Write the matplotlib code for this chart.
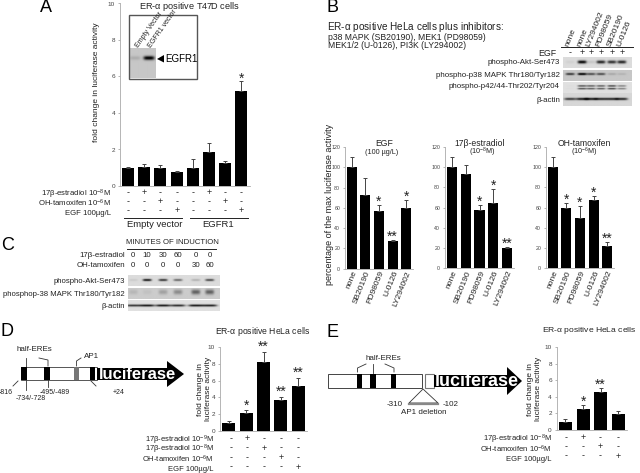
import numpy as np
import matplotlib
matplotlib.use('Agg')
import matplotlib.pyplot as plt
from matplotlib.patches import Polygon, Rectangle

plt.rcParams['font.family'] = ['Liberation Sans', 'DejaVu Sans']
plt.rcParams['mathtext.default'] = 'regular'

W, H = 640, 473

# panel A
a_vals = [1.0, 1.05, 0.98, 0.75, 1.0, 1.85, 1.25, 5.2]
a_errs = [0.05, 0.15, 0.15, 0.05, 0.5, 0.5, 0.1, 0.55]
a_stars = ['', '', '', '', '', '', '', '*']
a_e2 = ['-', '+', '-', '-', '-', '+', '-', '-']
a_tam = ['-', '-', '+', '-', '-', '-', '+', '-']
a_egf = ['-', '-', '-', '+', '-', '-', '-', '+']

# panel B
inhibitors = ['none', 'SB20190', 'PD98059', 'U-0126', 'LY294002']
egf_vals = [100, 73, 57, 27.5, 59.5]
egf_errs = [10, 16, 6, 0.5, 8.5]
egf_stars = ['', '', '*', '**', '*']
e2_vals = [100, 93, 58, 64.5, 20.5]
e2_errs = [10, 9, 5, 14, 1]
e2_stars = ['', '', '*', '*', '**']
tam_vals = [100, 60, 50, 67.5, 22.5]
tam_errs = [10, 5, 12, 4.5, 3.5]
tam_stars = ['', '*', '*', '*', '**']
b_lanes = ['none', 'none', 'LY294002', 'PD98059', 'SB20190', 'U-0126']
b_egf = ['-', '+', '+', '+', '+', '+']
b_akt = [0.05, 1.0, 0.1, 0.85, 0.8, 0.85]
b_p38 = [0.7, 1.0, 0.6, 0.6, 0.15, 0.1]
b_p42 = [0.02, 0.75, 0.7, 0.7, 0.8, 0.5]
b_actin = [0.75, 0.9, 0.9, 0.85, 0.85, 0.85]

# panel C
c_e2 = ['0', '10', '30', '60', '0', '0']
c_tam = ['0', '0', '0', '0', '30', '60']
c_akt = [0.08, 0.95, 0.8, 0.55, 0.2, 0.7]
c_p38 = [0.1, 0.05, 0.2, 0.3, 0.5, 0.5]
c_actin = [0.8, 0.95, 0.95, 0.85, 0.95, 0.9]

# panel D
d_vals = [1.0, 2.2, 8.2, 3.75, 5.3]
d_errs = [0.15, 0.25, 1.2, 0.35, 1.05]
d_stars = ['', '*', '**', '**', '**']
d_e2low = ['-', '+', '-', '-', '-']
d_e2high = ['-', '-', '+', '-', '-']
d_tam = ['-', '-', '-', '+', '-']
d_egf = ['-', '-', '-', '-', '+']

# panel E
e_vals = [1.0, 2.55, 4.6, 1.9]
e_errs = [0.3, 0.45, 0.5, 0.35]
e_stars = ['', '*', '**', '']
e_e2 = ['-', '+', '-', '-']
e_tam = ['-', '-', '+', '-']
e_egf = ['-', '-', '-', '+']

fig = plt.figure(figsize=(W / 100, H / 100), dpi=100)
bg = fig.add_axes([0, 0, 1, 1], zorder=0)
bg.set_xlim(0, W)
bg.set_ylim(H, 0)
bg.axis('off')


def txt(x, y, s, size=6.3, ha='left', color='#222222', **kw):
    bg.text(x, y, s, fontsize=size, ha=ha, va='center', color=color, **kw)


def bars(left, right, top, bottom, vals, errs, stars, ymax, step, labels=None, lab_size=4.6, star_gap=None):
    ax = fig.add_axes([left / W, 1 - bottom / H, (right - left) / W, (bottom - top) / H], zorder=2)
    ax.patch.set_alpha(0)
    x = np.arange(len(vals))
    ax.bar(x, vals, width=0.74, color='black')
    ax.errorbar(x, vals, yerr=[np.zeros(len(errs)), errs], fmt='none', ecolor='#444444',
                elinewidth=0.7, capsize=1.4, capthick=0.7)
    for i in x:
        if stars[i]:
            gap = star_gap if star_gap else ymax * 0.015
            ax.text(i, vals[i] + errs[i] + gap, stars[i], ha='center', va='center', fontsize=10,
                    color='#222222', clip_on=False)
    ax.set_xlim(-0.5, len(vals) - 0.5)
    ax.set_ylim(0, ymax)
    ax.set_yticks(np.arange(0, ymax + 1, step))
    ax.tick_params(axis='y', labelsize=lab_size, length=1.5, width=0.5, color='#999999',
                   labelcolor='#444444', pad=2)
    ax.spines['top'].set_visible(False)
    ax.spines['right'].set_visible(False)
    ax.spines['left'].set_color('#aaaaaa')
    ax.spines['bottom'].set_color('#aaaaaa')
    ax.spines['left'].set_linewidth(0.6)
    ax.spines['bottom'].set_linewidth(0.6)
    if labels:
        ax.set_xticks(x)
        ax.set_xticklabels(labels, rotation=68, ha='right', rotation_mode='anchor', fontsize=6.0, color='#222222')
        ax.tick_params(axis='x', length=0, pad=1)
    else:
        ax.set_xticks([])
    return ax


def signs(xs, y, row, size=6.5):
    for x, s in zip(xs, row):
        txt(x, y, s, size=size, ha='center')


def gel(x0, x1, y0, y1, lanes, levels, shade=0.84, double=False, sx=4.5, sy=1.1, dy=0.0):
    # blot strip from band strengths
    n = 60
    gx = np.linspace(x0, x1, n * 2)
    gy = np.linspace(y0, y1, n)
    X, Y = np.meshgrid(gx, gy)
    img = np.full(X.shape, shade)
    mid = (y0 + y1) / 2 + dy
    for lx, lv in zip(lanes, levels):
        blob = np.exp(-((X - lx) / sx) ** 4)
        if double:
            img -= lv * 0.8 * blob * (np.exp(-((Y - mid + 1.6) / 0.8) ** 2) + np.exp(-((Y - mid - 1.2) / 0.8) ** 2))
        else:
            img -= lv * 0.85 * blob * np.exp(-((Y - mid) / sy) ** 2)
    bg.imshow(np.clip(img, 0, 1), extent=[x0, x1, y1, y0], cmap='gray', vmin=0, vmax=1, aspect='auto', zorder=1)


# panel letters
for lx, ly, s in [(40, 7, 'A'), (327, 8, 'B'), (1, 245, 'C'), (1, 331, 'D'), (326, 332, 'E')]:
    txt(lx, ly, s, size=13, color='black')

# ---- A
a_x = [128, 144, 160.5, 176.7, 193, 209, 225.5, 241.5]
bars(120, 249.5, 3.5, 186, a_vals, a_errs, a_stars, 10, 2, star_gap=0.15)
txt(189, 6.5, 'ER-$\\alpha$ positive T47D cells', size=6.6, ha='center')
txt(96.5, 82, 'fold change in luciferase activity', size=6.0, ha='center', rotation=90)
txt(111, 194, '17β-estradiol 10$^{-8}$M', ha='right', size=5.6)
txt(111, 203.5, 'OH-tamoxifen 10$^{-6}$M', ha='right', size=5.6)
txt(111, 213, 'EGF 100µg/L', ha='right', size=5.6)
signs(a_x, 192.5, a_e2)
signs(a_x, 201.5, a_tam)
signs(a_x, 210.5, a_egf)
bg.plot([124, 182], [217.5, 217.5], color='#222222', lw=0.7)
bg.plot([190, 248], [217.5, 217.5], color='#222222', lw=0.7)
txt(155, 224, 'Empty vector', size=6.8, ha='center')
txt(218, 224, 'EGFR1', size=6.8, ha='center')
gel(129, 156, 49, 78.5, [135, 149], [0.12, 0.95], shade=0.78, sx=5.5, sy=2.0, dy=-5)
bg.add_patch(Rectangle((128.5, 15.5), 68.5, 63.5, fc='none', ec='#555555', lw=1.0, zorder=3))
txt(137, 47, 'Empty Vector', size=5, rotation=55, rotation_mode='anchor')
txt(150, 47, 'EGFR1 vector', size=5, rotation=55, rotation_mode='anchor')
bg.add_patch(Polygon([[157, 59], [164, 55], [164, 62.5]], fc='black', ec='none', zorder=3))
txt(165, 59, 'EGFR1', size=7, color='black')

# ---- B
txt(327, 27.5, 'ER-$\\alpha$ positive HeLa cells plus inhibitors:', size=7.2)
txt(328, 37.5, 'p38 MAPK (SB20190), MEK1 (PD98059)', size=6.2)
txt(328, 45.5, 'MEK1/2 (U-0126), PI3K (LY294002)', size=6.2)
b_x = [570, 582, 591, 601, 612, 622]
for x, s in zip(b_x, b_lanes):
    txt(x - 3, 46, s, size=6.0, rotation=68, rotation_mode='anchor')
bg.plot([561, 633], [47.5, 47.5], color='#222222', lw=0.7)
txt(556, 53, 'EGF', ha='right', size=6.3)
signs(b_x, 52.5, b_egf)
gel(563, 632, 57, 68, b_x, b_akt, shade=0.86, dy=-0.5, sy=1.6)
gel(563, 632, 70, 81, b_x, b_p38, shade=0.78, dy=-1.5)
gel(563, 632, 82, 93, b_x, b_p42, shade=0.88, double=True)
gel(563, 632, 94, 106, b_x, b_actin, shade=0.84, dy=-0.5, sx=6)
txt(560, 62.5, 'phospho-Akt-Ser473', ha='right', size=5.7)
txt(560, 75.5, 'phospho-p38 MAPK Thr180/Tyr182', ha='right', size=5.7)
txt(560, 87, 'phospho-p42/44-Thr202/Tyr204', ha='right', size=5.7)
txt(560, 100, 'β-actin', ha='right', size=5.7)

bars(345, 413, 147, 268.7, egf_vals, egf_errs, egf_stars, 120, 20, inhibitors, lab_size=3.8, star_gap=3)
bars(445, 514, 147, 268.3, e2_vals, e2_errs, e2_stars, 120, 20, inhibitors, lab_size=3.8, star_gap=3)
bars(546, 614, 147, 268.3, tam_vals, tam_errs, tam_stars, 120, 20, inhibitors, lab_size=3.8, star_gap=3)
txt(329.5, 204, 'percentage of the max luciferase activity', size=6.5, ha='center', rotation=90)
txt(384, 143, 'EGF', size=6.2, ha='center')
txt(382, 152, '(100 µg/L)', size=5.2, ha='center')
txt(480, 143, '17β-estradiol', size=6.2, ha='center')
txt(482, 152, '(10$^{-8}$M)', size=5.2, ha='center')
txt(584, 143, 'OH-tamoxifen', size=6.2, ha='center')
txt(584, 152, '(10$^{-6}$M)', size=5.2, ha='center')

# ---- C
c_x = [133, 147, 163, 178, 196, 210]
txt(172, 242, 'MINUTES OF INDUCTION', size=5.6, ha='center')
bg.plot([127, 216], [248.5, 248.5], color='#222222', lw=0.7)
txt(125, 255, '17β-estradiol', ha='right', size=5.7)
txt(125, 265, 'OH-tamoxifen', ha='right', size=5.7)
signs(c_x, 255.5, c_e2, size=5.7)
signs(c_x, 265.5, c_tam, size=5.7)
gel(128, 220, 275, 286, c_x, c_akt, shade=0.86, dy=-0.5)
gel(128, 220, 288, 299, c_x, c_p38, shade=0.80, sy=2.5, dy=-1.5)
gel(128, 220, 300, 311, c_x, c_actin, shade=0.88, sx=7.5)
txt(125, 281, 'phospho-Akt-Ser473', ha='right', size=5.6)
txt(125, 294, 'phosphop-38 MAPK Thr180/Tyr182', ha='right', size=5.6)
txt(125, 306, 'β-actin', ha='right', size=5.6)

# ---- D
d_x = [230.7, 247, 264, 281, 298]
bars(220, 307, 347, 431, d_vals, d_errs, d_stars, 10, 2, star_gap=0.6)
txt(263, 331, 'ER-$\\alpha$ positive HeLa cells', size=6.2, ha='center')
txt(200, 389, 'fold change in', size=6.0, ha='center', rotation=90)
txt(208, 389, 'luciferase activity', size=6.0, ha='center', rotation=90)
txt(214, 440, '17β-estradiol 10$^{-9}$M', ha='right', size=5.5)
txt(214, 449.5, '17β-estradiol 10$^{-8}$M', ha='right', size=5.5)
txt(214, 459, 'OH-tamoxifen 10$^{-6}$M', ha='right', size=5.5)
txt(214, 469, 'EGF 100µg/L', ha='right', size=5.5)
signs(d_x, 438.5, d_e2low)
signs(d_x, 448, d_e2high)
signs(d_x, 457.5, d_tam)
signs(d_x, 467, d_egf)

bg.add_patch(Rectangle((21, 367), 76, 13, fc='white', ec='#555555', lw=0.7, zorder=2))
for x0, x1, c in [(21, 27, 'black'), (44, 49.5, 'black'), (74, 79, '#777777'), (89.5, 95, 'black')]:
    bg.add_patch(Rectangle((x0, 367), x1 - x0, 13, fc=c, ec='none', zorder=3))
bg.add_patch(Polygon([[97, 368], [167, 368], [167, 361], [184, 374], [167, 387], [167, 380], [97, 380]],
                     fc='black', ec='none', zorder=3))
txt(99, 374, 'luciferase', size=12, color='white', weight='bold', zorder=4)
txt(34, 349, 'half-EREs', size=5.8, ha='center')
txt(84, 356.5, 'AP1', size=5.8)
bg.plot([25.5, 25.5], [358, 367], color='#333333', lw=0.6)
bg.plot([39, 48, 48], [358, 360, 366], color='#333333', lw=0.6)
bg.plot([76.5, 76.5, 81], [366, 361, 358], color='#333333', lw=0.6)
bg.plot([25.5, 25.5], [380, 390], color='#333333', lw=0.6)
bg.plot([48, 48], [380, 387], color='#333333', lw=0.6)
bg.plot([18, 13], [381, 386], color='#333333', lw=0.6)
bg.plot([91, 96], [381, 386], color='#333333', lw=0.6)
txt(6, 392, '-816', size=5, ha='center')
txt(31, 398, '-734/-728', size=5, ha='center')
txt(55, 392, '-495/-489', size=5, ha='center')
txt(119, 392, '+24', size=5, ha='center')

# ---- E
e_x = [565.7, 583, 600, 617.7]
bars(556.7, 627, 347, 430, e_vals, e_errs, e_stars, 10, 2, star_gap=0.35)
txt(542, 330, 'ER-$\\alpha$ positive HeLa cells', size=6.1)
txt(531, 389, 'fold change in', size=6.0, ha='center', rotation=90)
txt(539, 389, 'luciferase activity', size=6.0, ha='center', rotation=90)
txt(552, 439.5, '17β-estradiol 10$^{-8}$M', ha='right', size=5.5)
txt(552, 449, 'OH-tamoxifen 10$^{-6}$M', ha='right', size=5.5)
txt(552, 459, 'EGF 100µg/L', ha='right', size=5.5)
signs(e_x, 437.5, e_e2)
signs(e_x, 446.5, e_tam)
signs(e_x, 456, e_egf)

bg.add_patch(Rectangle((327.5, 374), 94.5, 14, fc='white', ec='#444444', lw=0.7, zorder=2))
for x0, x1 in [(357, 361.5), (370, 375.5), (391, 396)]:
    bg.add_patch(Rectangle((x0, 374), x1 - x0, 14, fc='black', ec='none', zorder=3))
bg.add_patch(Rectangle((425, 374), 9, 14, fc='white', ec='#777777', lw=0.8, zorder=2))
bg.add_patch(Polygon([[434, 375], [507, 375], [507, 367], [522, 381], [507, 395], [507, 387], [434, 387]],
                     fc='black', ec='none', zorder=3))
txt(435, 381, 'luciferase', size=13, color='white', weight='bold', zorder=4)
txt(383, 358.5, 'half-EREs', size=5.8, ha='center')
bg.plot([357.5, 357.5, 366], [372, 368, 364], color='#333333', lw=0.6)
bg.plot([373, 373], [364, 373], color='#333333', lw=0.6)
bg.plot([394, 394, 385], [372, 368, 364], color='#333333', lw=0.6)
bg.add_patch(Polygon([[423, 389], [409, 403], [438, 403]], fc='white', ec='#333333', lw=0.6, zorder=3))
bg.plot([409, 438], [403.5, 403.5], color='#888888', lw=1.6, zorder=4)
txt(403, 404.5, '-310', size=5.8, ha='right')
txt(443, 404.5, '-102', size=5.8)
txt(424, 412.5, 'AP1 deletion', size=5.8, ha='center')

bg.set_xlim(0, W)
bg.set_ylim(H, 0)
fig.savefig('out.png', dpi=100)
